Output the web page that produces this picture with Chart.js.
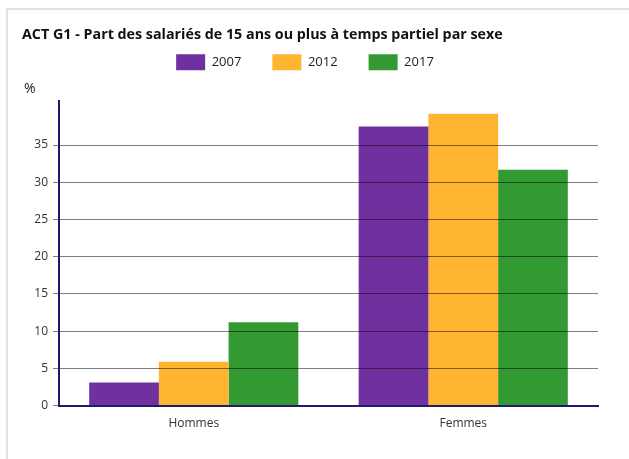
<!DOCTYPE html>
<html>
<head>
<meta charset="utf-8">
<script src="https://cdn.jsdelivr.net/npm/chart.js@4.4.1/dist/chart.umd.min.js"></script>
<style>
  html, body { margin: 0; padding: 0; background: #fff; }
  #card {
    position: absolute; left: 6px; top: 8px;
    width: 640px; height: 470px;
    border: 2px solid #e3e3e3; box-sizing: border-box;
  }
  #wrap { position: absolute; left: 0; top: 0; width: 629px; height: 459px; }
</style>
</head>
<body>
<div id="card"></div>
<div id="wrap"><canvas id="chart" width="629" height="459"></canvas></div>
<script>
  // Données du graphique
  const categories = ["Hommes", "Femmes"];
  const years = ["2007", "2012", "2017"];
  const values2007 = [3.1, 37.5];
  const values2012 = [5.9, 39.2];
  const values2017 = [11.2, 31.7];
  const colors = ["#7030A0", "#FFB432", "#339933"];

  Chart.defaults.font.family = "'Open Sans', 'Noto Sans', sans-serif";
  Chart.defaults.color = "#333";

  // Plugin : unité "%" + espace supplémentaire sous la légende
  const unitLabel = {
    id: "unitLabel",
    beforeInit(chart) {
      const fitLegend = chart.legend.fit;
      chart.legend.fit = function () {
        fitLegend.bind(chart.legend)();
        this.height += 21;
      };
    },
    afterLayout(chart) {
      // légende un peu décalée vers la gauche
      chart.legend.left -= 5;
      chart.legend.right -= 5;
    },
    afterDraw(chart) {
      const ctx = chart.ctx;
      ctx.save();
      ctx.font = "14px 'Open Sans', sans-serif";
      ctx.fillStyle = "#222";
      ctx.textBaseline = "middle";
      ctx.fillText("%", 24, 89);
      ctx.restore();
    },
  };

  const ctx = document.getElementById("chart").getContext("2d");
  new Chart(ctx, {
    type: "bar",
    data: {
      labels: categories,
      datasets: [
        { label: years[0], data: values2007, backgroundColor: colors[0] },
        { label: years[1], data: values2012, backgroundColor: colors[1] },
        { label: years[2], data: values2017, backgroundColor: colors[2] },
      ],
    },
    options: {
      responsive: false,
      animation: false,
      layout: { padding: { left: 22, right: 31, top: 0, bottom: 25 } },
      datasets: {
        bar: { categoryPercentage: 0.776, barPercentage: 1.0, borderWidth: 0 },
      },
      plugins: {
        title: {
          display: true,
          text: "ACT G1 - Part des salariés de 15 ans ou plus à temps partiel par sexe",
          align: "start",
          color: "#111",
          font: { size: 14.3, weight: "bold" },
          padding: { top: 26, bottom: -20 },
        },
        legend: {
          position: "top",
          labels: {
            boxWidth: 29,
            boxHeight: 16,
            padding: 31,
            color: "#222",
            font: { size: 13 },
          },
        },
        tooltip: { enabled: false },
      },
      scales: {
        x: {
          grid: { display: false },
          border: { color: "#1f1a6e", width: 2, z: 1 },
          ticks: { font: { size: 12 }, color: "#333", padding: 3 },
        },
        y: {
          min: 0,
          max: 40.9,
          afterBuildTicks(scale) {
            scale.ticks = scale.ticks.filter((t) => t.value % 5 === 0 && t.value < 40);
          },
          afterFit(scale) {
            scale.width = 37;
          },
          ticks: { stepSize: 5, font: { size: 12 }, color: "#333", padding: 5 },
          border: { color: "#1f1a6e", width: 2, z: 1 },
          grid: {
            z: 1,
            tickLength: 6,
            lineWidth: 1,
            color: (c) => (c.tick && c.tick.value === 0 ? "rgba(0,0,0,0)" : "rgba(0,0,0,0.5)"),
            tickColor: "rgba(0,0,0,0.5)",
          },
        },
      },
    },
    plugins: [unitLabel],
  });
</script>
</body>
</html>
